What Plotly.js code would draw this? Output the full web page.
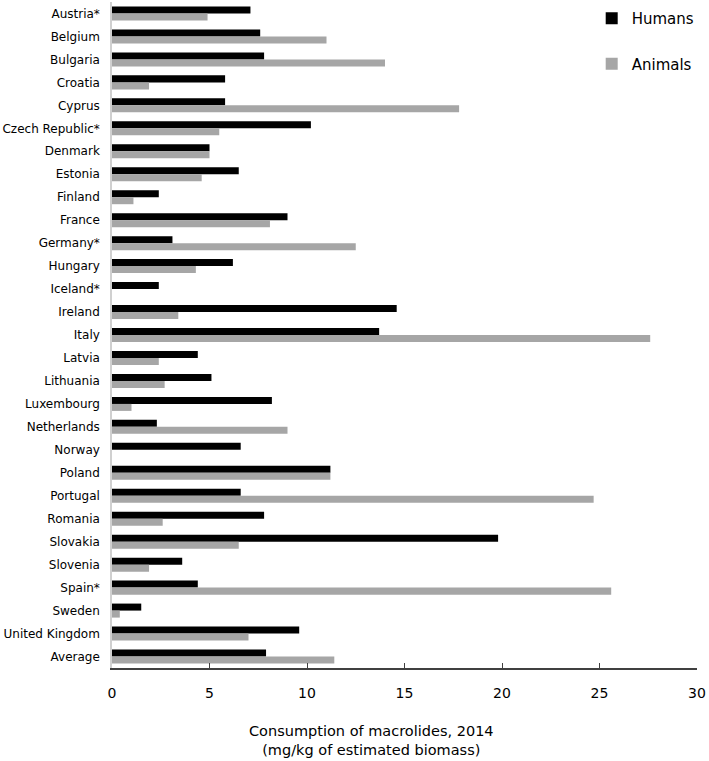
<!DOCTYPE html>
<html>
<head>
<meta charset="utf-8">
<script src="https://cdn.plot.ly/plotly-3.0.1.min.js"></script>
<style>
  body { margin: 0; background: #ffffff; }
  #grafico { width: 709px; height: 761px; }
</style>
</head>
<body>
<div id="grafico"></div>
<script>
// Países (de cima para baixo)
const countries = ['Austria*', 'Belgium', 'Bulgaria', 'Croatia', 'Cyprus', 'Czech Republic*',
    'Denmark', 'Estonia', 'Finland', 'France', 'Germany*', 'Hungary', 'Iceland*', 'Ireland',
    'Italy', 'Latvia', 'Lithuania', 'Luxembourg', 'Netherlands', 'Norway', 'Poland',
    'Portugal', 'Romania', 'Slovakia', 'Slovenia', 'Spain*', 'Sweden', 'United Kingdom', 'Average'];

// Consumo em humanos (mg/kg)
const humans = [7.1, 7.6, 7.8, 5.8, 5.8, 10.2, 5.0, 6.5, 2.4, 9.0, 3.1, 6.2, 2.4, 14.6,
    13.7, 4.4, 5.1, 8.2, 2.3, 6.6, 11.2, 6.6, 7.8, 19.8, 3.6, 4.4, 1.5, 9.6, 7.9];

// Consumo em animais (mg/kg)
const animals = [4.9, 11.0, 14.0, 1.9, 17.8, 5.5, 5.0, 4.6, 1.1, 8.1, 12.5, 4.3, 0, 3.4,
    27.6, 2.4, 2.7, 1.0, 9.0, 0, 11.2, 24.7, 2.6, 6.5, 1.9, 25.6, 0.4, 7.0, 11.4];

const xTicks = [0, 5, 10, 15, 20, 25, 30];

const data = [
    {
        name: 'Humans',
        y: countries,
        x: humans,
        type: 'bar',
        orientation: 'h',
        legendgroup: 'h',
        marker: { color: '#000000' }
    },
    {
        name: 'Animals',
        y: countries,
        x: animals,
        type: 'bar',
        orientation: 'h',
        legendgroup: 'a',
        marker: { color: '#a6a6a6' }
    }
];

const layout = {
    width: 709,
    height: 761,
    margin: { l: 112, r: 12, t: 2, b: 93 },
    barmode: 'group',
    bargap: 0.39,
    bargroupgap: 0,
    font: { family: 'DejaVu Sans', color: '#000000' },
    xaxis: {
        range: [0, 30],
        tickvals: xTicks,
        ticks: 'inside',
        ticklen: 5,
        tickcolor: '#404040',
        tickfont: { size: 14 },
        ticklabelstandoff: 11,
        showgrid: false,
        zeroline: false,
        showline: true,
        linecolor: '#404040',
        linewidth: 1.5
    },
    yaxis: {
        autorange: 'reversed',
        tickfont: { size: 12 },
        ticks: '',
        ticklabelstandoff: 8,
        showgrid: false,
        showline: true,
        linecolor: '#d0d0d0',
        linewidth: 1.5
    },
    legend: {
        x: 0.82,
        xanchor: 'left',
        y: 1.0,
        yanchor: 'top',
        traceorder: 'grouped',
        tracegroupgap: 23,
        font: { size: 15 },
        bgcolor: 'rgba(0,0,0,0)'
    },
    annotations: [
        {
            text: 'Consumption of macrolides, 2014<br>(mg/kg of estimated biomass)',
            xref: 'paper',
            yref: 'paper',
            x: 0.443,
            y: -0.08,
            xanchor: 'center',
            yanchor: 'top',
            showarrow: false,
            font: { size: 14.5 }
        }
    ],
    plot_bgcolor: '#ffffff',
    paper_bgcolor: '#ffffff'
};

Plotly.newPlot('grafico', data, layout, { displayModeBar: false });
</script>
</body>
</html>
